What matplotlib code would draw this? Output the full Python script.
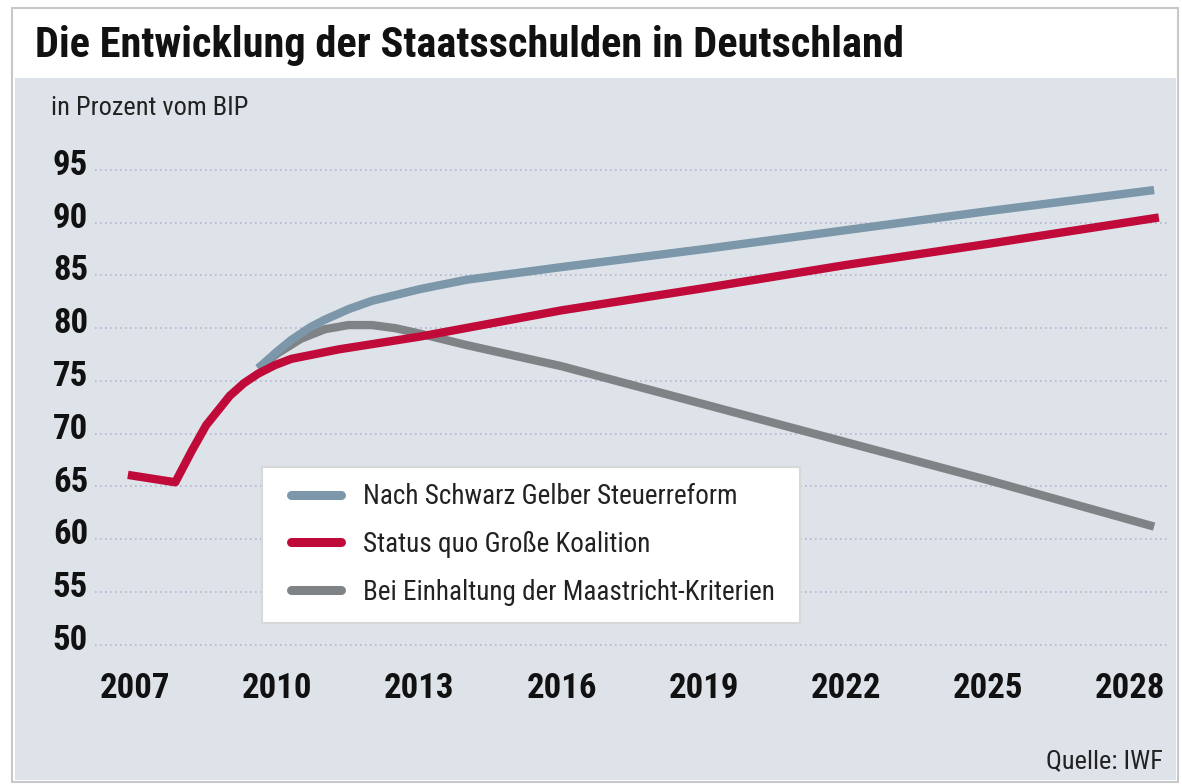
import matplotlib
matplotlib.use("Agg")
import matplotlib.pyplot as plt
from matplotlib import font_manager
from matplotlib.transforms import ScaledTranslation
from matplotlib.patches import Rectangle

# ---- data ----
blue_years = [2009.6, 2010.0, 2010.3, 2010.7, 2011.0, 2011.5, 2012.0, 2013.0, 2014.0, 2016.0, 2019.0, 2022.0, 2025.0, 2028.5]
blue_vals  = [76.2, 77.8, 78.9, 80.1, 80.8, 81.8, 82.6, 83.7, 84.6, 85.8, 87.5, 89.3, 91.1, 93.1]

red_years = [2006.85, 2007.85, 2008.2, 2008.5, 2009.0, 2009.3, 2009.6, 2009.95, 2010.3, 2011.3, 2013.0, 2016.0, 2019.0, 2022.0, 2025.0, 2028.6]
red_vals  = [66.1, 65.4, 68.4, 70.8, 73.6, 74.8, 75.7, 76.5, 77.1, 78.0, 79.2, 81.7, 83.8, 86.0, 88.0, 90.5]

grey_years = [2009.6, 2010.0, 2010.5, 2011.0, 2011.5, 2012.0, 2012.5, 2013.0, 2014.0, 2016.0, 2019.0, 2022.0, 2025.0, 2028.5]
grey_vals  = [76.2, 77.6, 79.0, 79.9, 80.3, 80.3, 80.0, 79.5, 78.4, 76.4, 72.8, 69.2, 65.6, 61.2]

series_labels = ["Nach Schwarz Gelber Steuerreform",
                 "Status quo Große Koalition",
                 "Bei Einhaltung der Maastricht-Kriterien"]

y_ticks = [50, 55, 60, 65, 70, 75, 80, 85, 90, 95]
x_ticks = [2007, 2010, 2013, 2016, 2019, 2022, 2025, 2028]

title = "Die Entwicklung der Staatsschulden in Deutschland"
unit_label = "in Prozent vom BIP"
source = "Quelle: IWF"

# ---- fonts ----
names = {f.name for f in font_manager.fontManager.ttflist}
FAM = ["Roboto Condensed", "DejaVu Sans"] if "Roboto Condensed" in names else ["DejaVu Sans"]

W, H = 1182, 784
fig = plt.figure(figsize=(W / 100, H / 100), dpi=100)
fig.patch.set_facecolor("white")

def fx(px):
    return px / W

def fy(py):
    return 1 - py / H

# outer frame and panel
fig.add_artist(Rectangle((fx(12), fy(782)), fx(1178) - fx(12), fy(8) - fy(782),
                         transform=fig.transFigure, facecolor="white",
                         edgecolor="#c8c8c8", lw=1.5, zorder=0))
fig.add_artist(Rectangle((fx(15), fy(780)), fx(1176) - fx(15), fy(78) - fy(780),
                         transform=fig.transFigure, facecolor="#dde3e9",
                         edgecolor="none", zorder=0))

fig.text(fx(35), fy(45), title, family=FAM, fontweight="bold", fontsize=30.5,
         color="#111111", va="center", ha="left")
fig.text(fx(51), fy(108), unit_label, family=FAM, fontsize=19,
         color="#222222", va="center", ha="left")
fig.text(fx(1163), fy(761), source, family=FAM, fontsize=19,
         color="#222222", va="center", ha="right")

ax = fig.add_axes([fx(95), fy(660), fx(1168) - fx(95), fy(150) - fy(660)])
ax.set_facecolor("none")
ax.set_xlim(2007 - 40 / 47.4, 2007 + 1033 / 47.4)
ax.set_ylim(95 - 490 / 10.55, 95 + 20 / 10.55)

for s in ax.spines.values():
    s.set_visible(False)
ax.set_yticks(y_ticks)
ax.set_xticks(x_ticks)
ax.set_yticklabels([str(v) for v in y_ticks], family=FAM, fontweight="bold",
                   fontsize=25, color="#111111")
ax.set_xticklabels([str(v) for v in x_ticks], family=FAM, fontweight="bold",
                   fontsize=25, color="#111111")
ax.tick_params(axis="both", length=0)
ax.tick_params(axis="y", pad=5)
ax.tick_params(axis="x", pad=9)
off = ScaledTranslation(0, 8 / 100, fig.dpi_scale_trans)
for lbl in ax.get_yticklabels():
    lbl.set_transform(lbl.get_transform() + off)

ax.grid(axis="y", color="#b4b4d0", linestyle=(0, (1, 2)), lw=1.2)
ax.grid(axis="x", visible=False)

c_blue, c_red, c_grey = "#7b97a9", "#c00a3a", "#808386"
LW = 6
lg, = ax.plot(grey_years, grey_vals, color=c_grey, lw=LW, solid_capstyle="butt",
              solid_joinstyle="round", zorder=3)
lb, = ax.plot(blue_years, blue_vals, color=c_blue, lw=LW, solid_capstyle="butt",
              solid_joinstyle="round", zorder=4)
lr, = ax.plot(red_years, red_vals, color=c_red, lw=LW, solid_capstyle="butt",
              solid_joinstyle="round", zorder=5)

# legend box (white panel) and legend entries
box = Rectangle((fx(262), fy(623)), fx(800) - fx(262), fy(467) - fy(623),
                transform=fig.transFigure, facecolor="white", edgecolor="#d8d8d8",
                lw=1.5, zorder=6)
ax.add_artist(box)
leg = ax.legend([lb, lr, lg], series_labels, loc="upper left",
                bbox_to_anchor=(fx(291), fy(483)), bbox_transform=fig.transFigure,
                prop={"family": FAM, "size": 19.5}, frameon=False,
                handlelength=1.85, handletextpad=0.8, labelspacing=0.77,
                borderpad=0, borderaxespad=0)
leg.set_zorder(7)
for t in leg.get_texts():
    t.set_color("#222222")
for h in leg.get_lines():
    h.set_linewidth(6.5)
    h.set_solid_capstyle("round")

fig.savefig("out.png", dpi=100, facecolor="white")
